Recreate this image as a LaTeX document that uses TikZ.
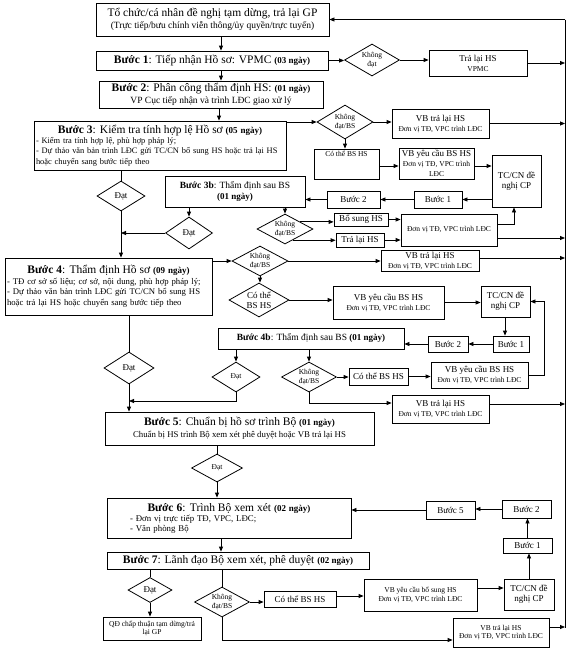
\documentclass[tikz,border=0pt]{standalone}
\usepackage{fontspec}
\setmainfont{Liberation Serif}
\usetikzlibrary{arrows.meta,shapes.geometric}
\newcommand\szA{\fontsize{11.5}{12.5}\selectfont}
\newcommand\szB{\fontsize{9.5}{10.5}\selectfont}
\newcommand\szD{\fontsize{9}{10}\selectfont}
\newcommand\szE{\fontsize{9}{10}\selectfont}
\newcommand\szF{\fontsize{8.8}{10}\selectfont}
\newcommand\szG{\fontsize{8.4}{10.2}\selectfont}
\newcommand\szH{\fontsize{8.7}{10.5}\selectfont}
\newcommand\szC{\fontsize{7.5}{8.5}\selectfont}
\newcommand\BX[7][]{\node[bx,minimum width={#5-#3},minimum height={#6-#4},#1] (#2) at ({(#3+#5)/2},{(#4+#6)/2}) {#7};}
\newcommand\DM[7][]{\node[dm,minimum width=#5,minimum height=#6,label={[lb,#1]center:#7}] (#2) at (#3,#4) {};}
\tikzset{
 bx/.style={draw,line width=0.8pt,inner sep=1pt,align=center},
 bxt/.style={draw,line width=0.8pt,inner sep=2pt},
 dm/.style={draw,diamond,line width=0.8pt,inner sep=0pt},
 lb/.style={align=center,font=\szC,inner sep=0pt},
 ar/.style={line width=0.8pt,-{Triangle[length=5pt,width=4pt]}},
 ln/.style={line width=0.8pt},
}
\begin{document}
\begin{tikzpicture}[x=1pt,y=-1pt]
\useasboundingbox (0,0) rectangle (576,651);
% ---------- nodes
\BX[font=\szA]{top}{96}{3}{329}{36}{Tổ chức/cá nhân đề nghị tạm dừng, trả lại GP\\{\szB(Trực tiếp/bưu chính viễn thông/ủy quyền/trực tuyến)}}
\BX[font=\szA]{b1}{96}{51}{328}{70}{\textbf{Bước 1}: Tiếp nhận Hồ sơ: VPMC {\szD\textbf{(03 ngày)}}}
\DM{d1}{372}{60}{55}{32}{Không\\đạt}
\BX[font=\szE]{tl1}{429}{50}{527}{76}{Trả lại HS\\{\szC VPMC}}
\BX[font=\szA]{b2}{99}{81}{323}{108}{\textbf{Bước 2}: Phân công thẩm định HS: {\szD\textbf{(01 ngày)}}\\{\szB VP Cục tiếp nhận và trình LĐC giao xử lý}}
\node[bxt,text width=248pt,minimum height=49pt,font=\szG] (b3) at (160,145.5) {{\centering\szA\textbf{Bước 3}: Kiểm tra tính hợp lệ Hồ sơ {\szD\textbf{(05 ngày)}}\par}\raggedright - Kiểm tra tính hợp lệ, phù hợp pháp lý;\\- Dự thảo văn bản trình LĐC gửi TC/CN bổ sung HS hoặc trả lại HS\\hoặc chuyển sang bước tiếp theo};
\BX[font=\szB]{b3b}{165}{176}{305}{207}{\textbf{Bước 3b}: Thẩm định sau BS\\{\szD\textbf{(01 ngày)}}}
\DM{d3K}{345}{122}{56}{34}{Không\\đạt/BS}
\BX[font=\szE]{vbtl3}{392}{109}{489}{138}{VB trả lại HS\\{\szC Đơn vị TĐ, VPC trình LĐC}}
\BX[font=\szC]{cobs3}{314}{149}{379}{179}{Có thể BS HS\\[11pt]\mbox{}}
\BX[font=\szE]{vbyc3}{399}{148}{474}{179}{VB yêu cầu BS HS\\{\szC Đơn vị TĐ, VPC trình}\\{\szC LĐC}}
\BX[font=\szE]{tc3}{492}{155}{541}{207}{TC/CN đề\\nghị CP}
\BX[font=\szE]{b1r3}{414}{191}{462}{208}{Bước 1}
\BX[font=\szE]{b2r3}{327}{191}{380}{208}{Bước 2}
\DM[font=\szE]{d3A}{121}{196}{48}{30}{Đạt}
\DM[font=\szE]{d3bA}{189}{233}{47}{32}{Đạt}
\DM{d3bK}{285}{229}{56}{30}{Không\\đạt/BS}
\BX[font=\szE]{bs3b}{334}{213}{388}{226}{Bổ sung HS}
\BX[font=\szE]{tl3b}{336}{233}{384}{247}{Trả lại HS}
\BX[font=\szC]{dv3b}{401}{214}{497}{246}{Đơn vị TĐ, VPC trình LĐC}
\node[bxt,text width=203pt,minimum height=57pt,font=\szH] (b4) at (108.5,286.5) {{\centering\szA\textbf{Bước 4}: Thẩm định Hồ sơ {\szD\textbf{(09 ngày)}}\par}\raggedright - TĐ cơ sở số liệu; cơ sở, nội dung, phù hợp pháp lý;\\- Dự thảo văn bản trình LĐC gửi TC/CN bổ sung HS\\hoặc trả lại HS hoặc chuyển sang bước tiếp theo};
\DM{d4K}{260}{261}{56}{30}{Không\\đạt/BS}
\BX[font=\szE]{vbtl4}{381}{250}{479}{271}{VB trả lại HS\\{\szC Đơn vị TĐ, VPC trình LĐC}}
\DM[font=\szE]{d4C}{259}{300}{60}{34}{Có thể\\BS HS}
\BX[font=\szE]{vbyc4}{333}{286}{444}{319}{VB yêu cầu BS HS\\{\szC Đơn vị TĐ, VPC trình LĐC}}
\BX[font=\szE]{tc4}{481}{286}{530}{317}{TC/CN đề\\nghị CP}
\BX[font=\szE]{b1r4}{493}{336}{529}{352}{Bước 1}
\BX[font=\szE]{b2r4}{428}{336}{468}{352}{Bước 2}
\BX[font=\szB]{b4b}{218}{328}{404}{349}{\textbf{Bước 4b}: Thẩm định sau BS {\szD\textbf{(01 ngày)}}}
\DM[font=\szE]{d4m}{129}{368}{50}{32}{Đạt}
\DM{d4bA}{236}{377}{48}{30}{Đạt}
\DM{d4bK}{309}{377}{55}{30}{Không\\đạt/BS}
\BX[font=\szE]{cobs4b}{349}{368}{408}{385}{Có thể BS HS}
\BX[font=\szE]{vbyc4b}{431}{362}{528}{388}{VB yêu cầu BS HS\\{\szC Đơn vị TĐ, VPC trình LĐC}}
\BX[font=\szE]{vbtl4b}{392}{395}{489}{423}{VB trả lại HS\\{\szC Đơn vị TĐ, VPC trình LĐC}}
\BX[font=\szA]{b5}{105}{412}{374}{445}{\textbf{Bước 5}: Chuẩn bị hồ sơ trình Bộ {\szD\textbf{(01 ngày)}}\\{\szF Chuẩn bị HS trình Bộ xem xét phê duyệt hoặc VB trả lại HS}}
\DM{d5}{217}{468}{51}{28}{Đạt}
\node[bxt,text width=240pt,minimum height=40pt,font=\szF] (b6) at (229,518) {{\centering\szA\textbf{Bước 6}: Trình Bộ xem xét {\szD\textbf{(02 ngày)}}\par}\raggedright\hspace*{21pt}- Đơn vị trực tiếp TĐ, VPC, LĐC;\\\hspace*{21pt}- Văn phòng Bộ};
\BX[font=\szE]{b5r}{426}{501}{475}{519}{Bước 5}
\BX[font=\szE]{b2r6}{502}{500}{551}{518}{Bước 2}
\BX[font=\szE]{b1r6}{503}{538}{552}{553}{Bước 1}
\BX[font=\szE]{tc6}{504}{579}{554}{610}{TC/CN đề\\nghị CP}
\BX[font=\szA]{b7}{107}{552}{369}{569}{\textbf{Bước 7}: Lãnh đạo Bộ xem xét, phê duyệt {\szD\textbf{(02 ngày)}}}
\DM[font=\szE]{d7A}{150}{590}{44}{25}{Đạt}
\BX[font=\szC]{qd}{103}{617}{201}{640}{QĐ chấp thuận tạm dừng/trả\\lại GP}
\DM{d7K}{222}{602}{55}{30}{Không\\đạt/BS}
\BX[font=\szE]{cobs7}{264}{591}{336}{607}{Có thể BS HS}
\BX[font=\szC]{vbyc7}{364}{579}{477}{611}{VB yêu cầu bổ sung HS\\Đơn vị TĐ, VPC trình LĐC}
\BX[font=\szC]{vbtl7}{453}{618}{549}{647}{VB trả lại HS\\Đơn vị TĐ, VPC trình LĐC}
\coordinate (rt) at (565,19.5);
\coordinate (rb) at (565,628);
% ---------- connectors
\draw[ln] (rt) -- (rb);
\draw[ar] (rt) -- (top.east |- rt);
\draw[ar] (top.south -| 221,0) -- (b1.north -| 221,0);
\draw[ar] (b1.south -| 221,0) -- (b2.north -| 221,0);
\draw[ar] (b2.south -| 219,0) -- (b3.north -| 219,0);
\draw[ar] (b1.east) -- (b1.east -| d1.west);
\draw[ar] (d1.east) -- (d1.east -| tl1.west);
\draw[ar] (tl1.east) -- (tl1.east -| rt);
\draw[ar] (b3.east |- d3K.west) -- (d3K.west);
\draw[ar] (d3K.east) -- (d3K.east -| vbtl3.west);
\draw[ar] (vbtl3.east) -- (vbtl3.east -| rt);
\draw[ar] (d3K.south) -- (d3K.south |- cobs3.north);
\draw[ar] (cobs3.east |- 0,166) -- (vbyc3.west |- 0,166);
\draw[ar] (vbyc3.east |- 0,166) -- (tc3.west |- 0,166);
\draw[ar] (tc3.west |- b1r3.east) -- (b1r3.east);
\draw[ar] (b1r3.west) -- (b2r3.east);
\draw[ar] (b2r3.west) -- (b2r3.west -| b3b.east);
\draw[ln] (b3.south -| d3A.north) -- (d3A.north);
\draw[ar] (d3A.south) -- (d3A.south |- b4.north);
\draw[ar] (b3b.south -| d3bA.north) -- (d3bA.north);
\draw[ar] (d3bA.west) -- (d3bA.west -| d3A.south);
\draw[ar] (b3b.south -| d3bK.north) -- (d3bK.north);
\draw[ar] (d3bK.25) -- (d3bK.25 -| bs3b.west);
\draw[ar] (d3bK.-56) -- (d3bK.-56 -| tl3b.west);
\draw[ar] (bs3b.east) -- (bs3b.east -| dv3b.west);
\draw[ar] (tl3b.east) -- (tl3b.east -| dv3b.west);
\draw[ar] (dv3b.east |- 0,224) -| (tc3.south -| 514,0);
\draw[ar] (dv3b.east |- 0,238) -- (rt |- 0,238);
\draw[ar] (b4.east |- d4K.west) -- (d4K.west);
\draw[ar] (d4K.east) -- (d4K.east -| vbtl4.west);
\draw[ar] (vbtl4.east |- 0,258) -- (rt |- 0,258);
\draw[ar] (d4K.south) -- (d4K.south |- d4C.north);
\draw[ar] (d4C.east) -- (d4C.east -| vbyc4.west);
\draw[ar] (vbyc4.east) -- (vbyc4.east -| tc4.west);
\draw[ar] (tc4.south -| 505,0) -- (b1r4.north -| 505,0);
\draw[ar] (b1r4.west) -- (b2r4.east);
\draw[ar] (b2r4.west) -- (b2r4.west -| b4b.east);
\draw[ar] (vbyc4b.east) -- ++(16,0) |- (tc4.east);
\draw[ln] (b4.south -| d4m.north) -- (d4m.north);
\draw[ar] (d4m.south) -- (d4m.south |- b5.north);
\draw[ar] (b4b.south -| d4bA.north) -- (d4bA.north);
\draw[ar] (b4b.south -| d4bK.north) -- (d4bK.north);
\draw[ar] (d4bA.south) |- (d4m.south |- 0,401);
\draw[ar] (d4bK.east) -- (d4bK.east -| cobs4b.west);
\draw[ar] (cobs4b.east) -- (cobs4b.east -| vbyc4b.west);
\draw[ar] (d4bK.south) |- (vbtl4b.west |- 0,403);
\draw[ar] (vbtl4b.east |- 0,404) -- (rt |- 0,404);
\draw[ln] (b5.south -| d5.north) -- (d5.north);
\draw[ar] (d5.south) -- (d5.south |- b6.north);
\draw[ar] (b5r.west) -- (b5r.west -| b6.east);
\draw[ar] (b2r6.west) -- (b2r6.west -| b5r.east);
\draw[ar] (b1r6.north) -- (b1r6.north |- b2r6.south);
\draw[ar] (tc6.north) -- (tc6.north |- b1r6.south);
\draw[ar] (b6.south -| 221,0) -- (b7.north -| 221,0);
\draw[ln] (b7.south -| d7A.north) -- (d7A.north);
\draw[ar] (d7A.south) -- (d7A.south |- qd.north);
\draw[ln] (b7.south -| d7K.north) -- (d7K.north);
\draw[ar] (d7K.east) -- (d7K.east -| cobs7.west);
\draw[ar] (cobs7.east |- 0,596) -- (vbyc7.west |- 0,596);
\draw[ar] (vbyc7.east |- 0,588) -- (tc6.west |- 0,588);
\draw[ar] (d7K.south) |- (vbtl7.west |- 0,640);
\draw[ar] (vbtl7.east |- 0,627) -- (rt |- 0,627);
\end{tikzpicture}
\end{document}
